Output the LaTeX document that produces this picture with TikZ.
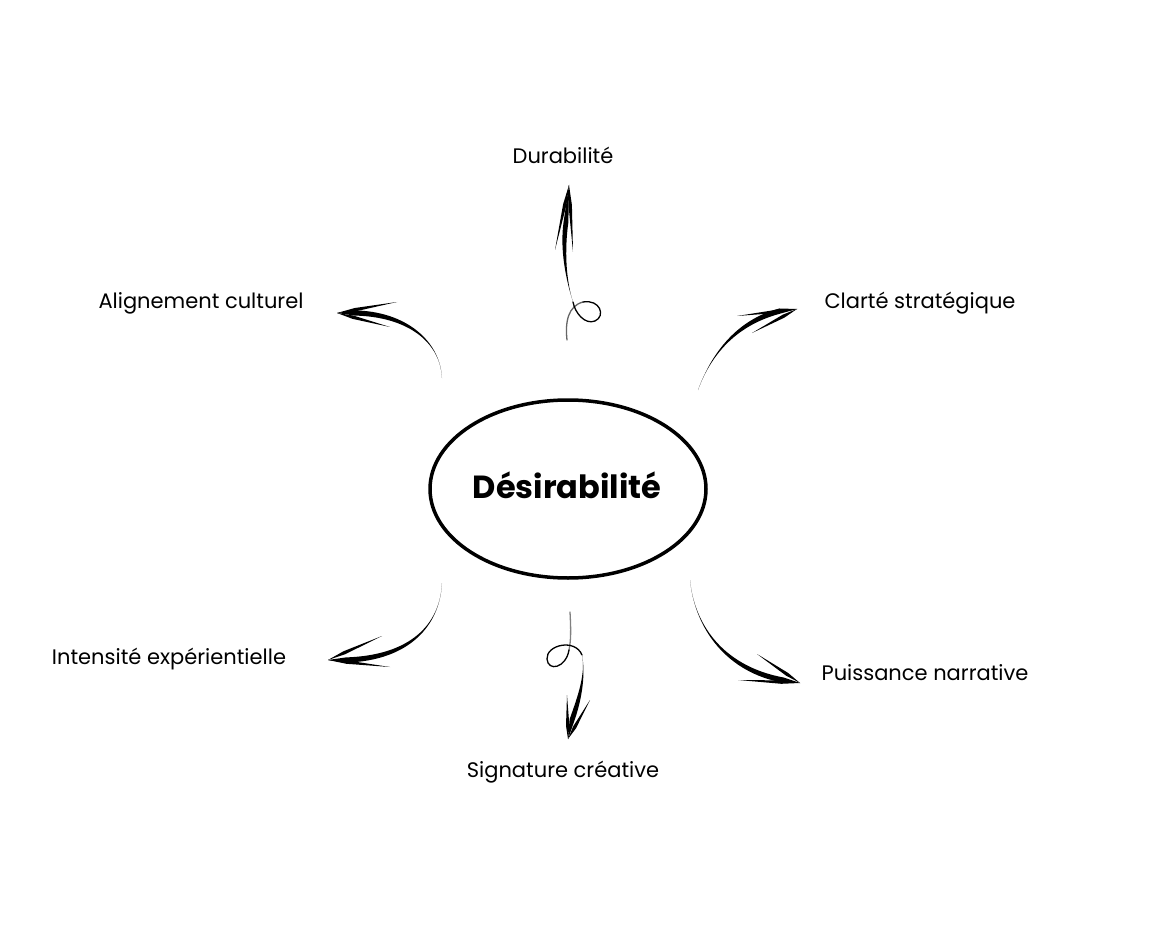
\documentclass[tikz,border=0pt]{standalone}
\usepackage{fontspec}
\setmainfont{Poppins}
\usetikzlibrary{calc,shapes.geometric}
\tikzset{
  lbl/.style={font=\fontsize{21}{24}\selectfont, inner sep=0pt},
  hub/.style={ellipse, draw, line width=3.5pt, minimum width=276pt, minimum height=178pt, inner sep=0pt},
  hubtext/.style={font=\fontsize{32}{36}\selectfont\bfseries, inner sep=0pt},
  loopline/.style={line width=1.3pt, line cap=round},
}
% tapered brush stroke: #1 start, #2 c1, #3 c2, #4 end, #5 tip, #6 half width
\newcommand{\brushstroke}[6]{%
  \fill (#1) .. controls (#2) and ($(#3)!#6!-90:(#4)$) .. ($(#4)!#6!90:(#3)$) -- (#5)
        -- ($(#4)!#6!-90:(#3)$) .. controls ($(#3)!#6!90:(#4)$) and (#2) .. (#1) -- cycle;}
% barb: #1 tip, #2 end, #3 half width
\newcommand{\barbstroke}[3]{%
  \fill (#1) -- ($($(#1)!0.3!(#2)$)!#3!90:(#2)$) -- (#2) -- ($($(#1)!0.3!(#2)$)!#3!-90:(#2)$) -- cycle;}
\begin{document}
\begin{tikzpicture}[x=1pt,y=-1pt]
\useasboundingbox (0,0) rectangle (1160,928);
\fill[white] (0,0) rectangle (1160,928);

\node[hub] (hub) at (568,489) {};
\node[hubtext] (hubt) at (567,485) {Désirabilité};

\node[lbl] (dur) at (563,155) {Durabilité};
\node[lbl] (ali) at (201,303) {Alignement culturel};
\node[lbl] (cla) at (920,303) {Clarté stratégique};
\node[lbl] (int) at (169,659) {Intensité expérientielle};
\node[lbl] (sig) at (563,772) {Signature créative};
\node[lbl] (pui) at (925,673) {Puissance narrative};

% Durabilité arrow (loop then up)
\coordinate (d0) at (567,340);
\coordinate (d1) at (573,302);
\coordinate (dT) at (569,185);
\draw[loopline, black!60] (d0) .. controls (565,322) and (568,306) .. (583,302);
\draw[loopline] (583,302) .. controls (600,299) and (606,316) .. (595,321)
      .. controls (585,325) and (575,313) .. (d1);
\brushstroke{d1}{566,280}{562,250}{566,222}{dT}{2.4pt}
\barbstroke{dT}{555,250}{1.7pt}
\barbstroke{dT}{573,252}{1.7pt}

% Alignement culturel arrow
\coordinate (a0) at (442,378);
\coordinate (aT) at (337,313);
\brushstroke{a0}{440,340}{405,314}{355,313}{aT}{2.6pt}
\barbstroke{aT}{397,302}{1.7pt}
\barbstroke{aT}{390,327}{1.7pt}

% Clarté stratégique arrow
\coordinate (c0) at (698,390);
\coordinate (cT) at (797,309);
\brushstroke{c0}{712,352}{738,322}{780,311}{cT}{2.6pt}
\barbstroke{cT}{737,316}{1.7pt}
\barbstroke{cT}{752,333}{1.7pt}

% Intensité expérientielle arrow
\coordinate (i0) at (442,583);
\coordinate (iT) at (328,660);
\brushstroke{i0}{440,625}{410,658}{346,660}{iT}{2.6pt}
\barbstroke{iT}{382,636}{1.7pt}
\barbstroke{iT}{390,667}{1.7pt}

% Signature créative arrow (loop then down)
\coordinate (s0) at (570,612);
\coordinate (s1) at (582,655);
\coordinate (sT) at (568,739);
\draw[loopline, black!50] (s0) .. controls (571,630) and (571,640) .. (569,650);
\draw[loopline] (569,650) .. controls (566,668) and (548,672) .. (547,659)
      .. controls (546,645) and (575,638) .. (s1);
\brushstroke{s1}{586,675}{579,700}{572,720}{sT}{2.5pt}
\barbstroke{sT}{567,695}{1.7pt}
\barbstroke{sT}{590,700}{1.7pt}

% Puissance narrative arrow
\coordinate (p0) at (690,580);
\coordinate (pT) at (800,683);
\brushstroke{p0}{695,630}{728,670}{783,680}{pT}{2.6pt}
\barbstroke{pT}{757,654}{1.7pt}
\barbstroke{pT}{738,680}{1.7pt}
\end{tikzpicture}
\end{document}
